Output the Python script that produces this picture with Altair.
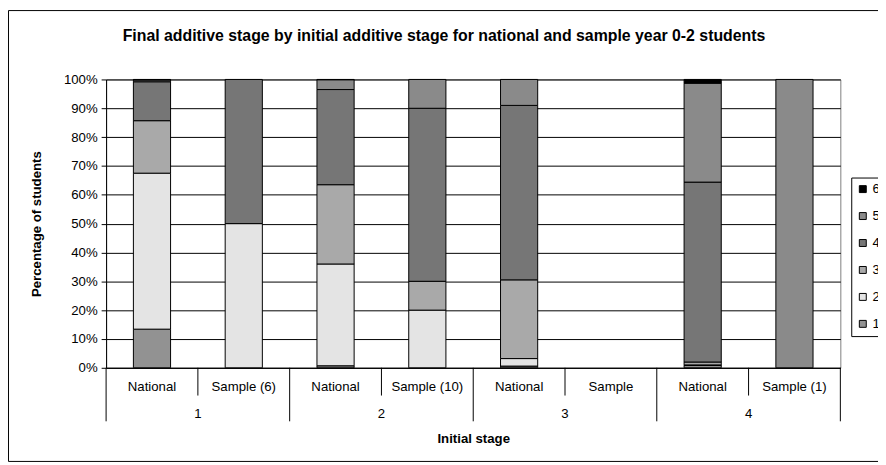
import altair as alt
import pandas as pd

# ---------------- data ----------------
groups = ["1", "2", "3", "4"]
sample_labels = ["Sample (6)", "Sample (10)", "Sample", "Sample (1)"]
stages = ["1", "2", "3", "4", "5", "6"]
# percentage of students in final stage 1..6, per initial stage
national_pct = [
    [13.4, 54.1, 18.2, 13.5, 0.6, 0.2],
    [0.7, 35.3, 27.5, 33.0, 3.4, 0.1],
    [0.6, 2.6, 27.3, 60.5, 9.0, 0.0],
    [0.8, 0.2, 1.0, 62.4, 34.3, 1.3],
]
sample_pct = [
    [0, 50, 0, 50, 0, 0],
    [0, 20, 10, 60, 10, 0],
    [0, 0, 0, 0, 0, 0],
    [0, 0, 0, 0, 100, 0],
]
legend_order = ["6", "5", "4", "3", "2", "1"]
legend_colors = ["#000000", "#8a8a8a", "#767676", "#a9a9a9", "#e4e4e4", "#929292"]

FONT = "Liberation Sans"

# ---------------- tables ----------------
cats = []
rows = []
for gi, g in enumerate(groups):
    nat_cat = f"{g}|National"
    sam_cat = f"{g}|{sample_labels[gi]}"
    cats += [nat_cat, sam_cat]
    for si, s in enumerate(stages):
        if national_pct[gi][si] > 0:
            rows.append({"cat": nat_cat, "stage": s, "pct": national_pct[gi][si]})
        if sample_pct[gi][si] > 0:
            rows.append({"cat": sam_cat, "stage": s, "pct": sample_pct[gi][si]})
df = pd.DataFrame(rows)

nat_cats = pd.DataFrame({"cat": cats[0::2], "group": groups})
sam_cats = pd.DataFrame({"cat": cats[1::2]})
last_cat = pd.DataFrame({"cat": [cats[-1]]})
one = pd.DataFrame({"a": [0]})

W, H = 741, 291

xscale = alt.Scale(domain=cats, paddingInner=0, paddingOuter=0)

frame = alt.Chart(one).mark_rect(filled=False, stroke="black", strokeWidth=1).encode(
    x=alt.value(-98.5), x2=alt.value(1000), y=alt.value(-69.5), y2=alt.value(385.5)
)

bars = alt.Chart(df).mark_bar(
    width=alt.RelativeBandSize(0.405), stroke="black", strokeWidth=1
).encode(
    x=alt.X(
        "cat:N",
        scale=xscale,
        sort=cats,
        axis=alt.Axis(
            title="Initial stage",
            labelExpr="split(datum.label, '|')[1]",
            labelAngle=0,
            labelFontSize=13.33,
            labelColor="black",
            labelBaseline="middle",
            labelPadding=19,
            ticks=False,
            tickSize=0,
            domainColor="black",
            titleFontSize=13.33,
            titleFontWeight="bold",
            titleColor="black",
            titleY=71,
            titleBaseline="middle",
        ),
    ),
    y=alt.Y(
        "pct:Q",
        stack="zero",
        scale=alt.Scale(domain=[0, 100], nice=False),
        axis=alt.Axis(
            values=list(range(0, 101, 10)),
            labelExpr="datum.value + '%'",
            labelFontSize=13.33,
            labelColor="black",
            labelPadding=4,
            tickSize=5,
            tickColor="black",
            domainColor="black",
            grid=True,
            gridColor="black",
            title="Percentage of students",
            titleFontSize=13.33,
            titleFontWeight="bold",
            titleColor="black",
            titleX=-70,
            titleY=H / 2,
            titleAngle=270,
            titleBaseline="middle",
            titleAlign="center",
        ),
    ),
    color=alt.Color(
        "stage:N",
        scale=alt.Scale(domain=legend_order, range=legend_colors),
        legend=alt.Legend(
            orient="none",
            legendX=752,
            legendY=99,
            title=None,
            symbolType="square",
            symbolSize=49,
            symbolStrokeColor="black",
            symbolStrokeWidth=1,
            labelFontSize=13.33,
            labelColor="black",
            labelOffset=3,
            labelExpr="datum.label + '        '",
            rowPadding=12.2,
            padding=5,
            strokeColor="black",
            fillColor="white",
            clipHeight=13.33,
        ),
    ),
    order=alt.Order("stage:N", sort="ascending"),
)

short_rules = alt.Chart(sam_cats).mark_rule(color="black", strokeWidth=1).encode(
    x=alt.X("cat:N", bandPosition=0), y=alt.value(H), y2=alt.value(H + 28)
)
long_rules = alt.Chart(nat_cats).mark_rule(color="black", strokeWidth=1).encode(
    x=alt.X("cat:N", bandPosition=0), y=alt.value(H), y2=alt.value(H + 54)
)
end_rule = alt.Chart(last_cat).mark_rule(color="black", strokeWidth=1).encode(
    x=alt.X("cat:N", bandPosition=1), y=alt.value(H), y2=alt.value(H + 54)
)
group_labels = alt.Chart(nat_cats).mark_text(
    fontSize=13.33, color="black", baseline="middle", font=FONT
).encode(
    x=alt.X("cat:N", bandPosition=1), y=alt.value(H + 47), text="group:N"
)

chart = alt.layer(
    frame, bars, short_rules, long_rules, end_rule, group_labels
).properties(
    width=W,
    height=H,
    autosize=alt.AutoSizeParams(type="none"),
    padding={"left": 99, "top": 70, "right": 38, "bottom": 96},
    title=alt.TitleParams(
        "Final additive stage by initial additive stage for national and sample year 0-2 students",
        fontSize=16,
        fontWeight="bold",
        color="black",
        anchor="middle",
        frame="group",
        dx=-29.5,
        baseline="middle",
        offset=-42.5,
        font=FONT,
    ),
).configure(
    font=FONT,
    background="white",
).configure_view(
    stroke="#808080", strokeWidth=1
).configure_axis(
    labelFont=FONT, titleFont=FONT
).configure_legend(
    labelFont=FONT
)

chart.save("out.html", embed_options={"renderer": "svg", "actions": False})
